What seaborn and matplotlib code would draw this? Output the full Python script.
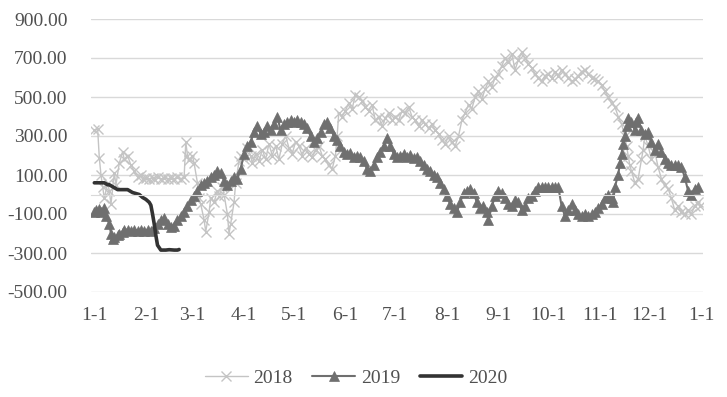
import matplotlib
matplotlib.use("Agg")
import numpy as np
import pandas as pd
import matplotlib.pyplot as plt
import seaborn as sns

# 日期用当年第几天表示 (1月1日 = 0)
days_2018 = [0, 2, 3, 4, 5, 6, 8, 9, 10, 12,
             13, 15, 17, 18, 20, 22, 24, 26, 28, 29,
             31, 33, 35, 36, 38, 40, 42, 44, 46, 48,
             50, 52, 54, 55, 56, 57, 59, 60, 62, 63,
             64, 66, 67, 69, 70, 72, 74, 75, 77, 78,
             80, 81, 82, 84, 85, 87, 88, 90, 92, 94,
             95, 97, 99, 101, 103, 105, 107, 109, 111, 113,
             115, 117, 119, 121, 123, 125, 127, 129, 131, 133,
             135, 137, 139, 141, 143, 145, 146, 147, 149, 151,
             153, 155, 157, 159, 161, 163, 165, 167, 169, 171,
             173, 175, 177, 179, 181, 183, 185, 187, 189, 191,
             193, 195, 197, 199, 201, 203, 205, 207, 209, 211,
             213, 215, 217, 219, 221, 223, 225, 227, 229, 231,
             233, 235, 237, 239, 241, 243, 245, 247, 249, 251,
             253, 255, 257, 259, 261, 263, 265, 267, 269, 271,
             273, 275, 277, 279, 281, 283, 285, 287, 289, 291,
             293, 295, 297, 299, 301, 303, 305, 307, 309, 311,
             313, 315, 317, 319, 320, 321, 322, 323, 325, 327,
             329, 330, 331, 333, 335, 337, 339, 341, 343, 345,
             347, 349, 351, 353, 355, 357, 359, 361, 363, 364]
vals_2018 = [330, 335, 187, 100, 40, -20, 60, 20, -50, 110,
             50, 160, 220, 180, 200, 150, 120, 90, 100, 80,
             85, 80, 85, 80, 90, 80, 85, 80, 85, 80,
             90, 80, 90, 270, 200, 175, 200, 160, 60, -20,
             -50, -130, -190, -90, -20, -40, 20, -10, 40, 0,
             -100, -200, -150, -40, 60, 170, 200, 180, 240, 200,
             160, 210, 170, 230, 180, 260, 200, 250, 180, 260,
             300, 240, 210, 270, 250, 200, 240, 210, 190, 230,
             250, 200, 180, 150, 130, 200, 300, 420, 400, 430,
             470, 440, 510, 500, 480, 450, 430, 460, 380, 400,
             350, 390, 420, 380, 400, 380, 430, 420, 450, 400,
             380, 350, 380, 360, 340, 360, 330, 310, 280, 260,
             300, 270, 250, 300, 380, 420, 460, 440, 500, 530,
             490, 540, 580, 550, 600, 620, 660, 700, 680, 720,
             640, 690, 730, 700, 670, 650, 620, 600, 580, 610,
             620, 600, 630, 610, 640, 620, 600, 580, 590, 610,
             630, 640, 620, 600, 590, 580, 560, 530, 500, 470,
             450, 400, 360, 300, 250, 200, 150, 120, 60, 80,
             180, 230, 300, 250, 180, 220, 140, 80, 50, 30,
             -20, -80, -60, -90, -100, -80, -100, -60, -40, -60]

days_2019 = [0, 1, 3, 4, 6, 7, 9, 10, 11, 12,
             14, 15, 17, 18, 20, 22, 24, 26, 28, 30,
             32, 34, 36, 38, 40, 42, 44, 46, 48, 50,
             52, 54, 56, 58, 60, 62, 64, 66, 68, 70,
             72, 74, 76, 78, 80, 82, 84, 86, 88, 90,
             92, 94, 96, 98, 100, 102, 104, 106, 108, 110,
             112, 114, 116, 118, 120, 122, 124, 126, 128, 130,
             132, 134, 136, 138, 140, 142, 144, 146, 148, 150,
             152, 154, 156, 158, 160, 162, 164, 166, 168, 170,
             172, 174, 176, 178, 180, 182, 184, 186, 188, 190,
             192, 194, 196, 198, 200, 202, 204, 206, 208, 210,
             212, 214, 216, 218, 220, 222, 224, 226, 228, 230,
             232, 234, 236, 237, 239, 241, 243, 245, 247, 249,
             251, 253, 255, 257, 259, 261, 263, 265, 267, 269,
             271, 273, 275, 277, 279, 281, 283, 285, 287, 289,
             291, 293, 295, 297, 299, 301, 303, 305, 307, 309,
             311, 312, 313, 315, 316, 317, 318, 319, 320, 321,
             323, 325, 326, 327, 329, 331, 333, 335, 337, 339,
             341, 343, 345, 347, 349, 351, 353, 355, 357, 359,
             361, 363]
vals_2019 = [-90, -80, -75, -90, -70, -110, -150, -200, -230, -220,
             -210, -200, -190, -180, -180, -185, -180, -185, -180, -185,
             -180, -185, -170, -150, -130, -120, -150, -165, -160, -130,
             -110, -90, -60, -30, -10, 20, 50, 60, 70, 90,
             100, 120, 110, 70, 50, 70, 90, 80, 130, 210,
             250, 270, 320, 350, 310, 320, 350, 330, 360, 400,
             330, 360, 370, 380, 370, 380, 370, 360, 340, 300,
             270, 290, 320, 360, 370, 340, 300, 280, 250, 220,
             210, 215, 190, 200, 190, 170, 130, 120, 150, 190,
             220, 250, 290, 250, 210, 190, 200, 210, 190, 205,
             185, 190, 170, 150, 130, 120, 100, 90, 60, 30,
             -10, -50, -70, -90, -40, 10, 20, 30, 10, -40,
             -70, -60, -90, -130, -60, -10, 20, 10, -20, -50,
             -60, -30, -40, -80, -60, -20, -10, 20, 40, 40,
             40, 40, 40, 40, 38, -60, -110, -80, -50, -80,
             -100, -110, -100, -110, -100, -90, -70, -50, -20, 0,
             -20, -40, 40, 100, 160, 210, 260, 300, 350, 390,
             370, 330, 370, 390, 330, 310, 320, 270, 230, 260,
             220, 180, 160, 150, 150, 150, 140, 90, 20, 0,
             30, 40]

days_2020 = [0, 1, 2, 6, 7, 8, 9, 13, 14, 20,
             21, 23, 27, 29, 31, 33, 34, 35, 36, 37,
             38, 40, 43, 45, 48, 50, 51]
vals_2020 = [60, 60, 60, 60, 55, 50, 50, 30, 25, 25,
             20, 10, 0, -15, -25, -40, -55, -100, -150, -210,
             -260, -285, -285, -283, -285, -285, -282]

y_ticks = list(range(-500, 901, 200))
month_starts = pd.date_range("2019-01-01", "2020-01-01", freq="MS")
month_days = (month_starts - month_starts[0]).days
month_labels = [f"{d.month}-1" for d in month_starts]

sns.set_style("white")
plt.rcParams["font.family"] = ["Liberation Serif", "DejaVu Serif"]
text_color = "#505050"
grid_color = "#d9d9d9"

fig = plt.figure(figsize=(7.27, 3.97), dpi=100)
ax = fig.add_axes([91 / 727, 1 - 292 / 397, (703 - 91) / 727, (292 - 19) / 397])

sns.lineplot(x=days_2018, y=vals_2018, ax=ax, sort=False, estimator=None,
             color="#c4c4c4", linewidth=1, marker="x", markersize=7,
             markeredgecolor="#c4c4c4", markeredgewidth=1, label="2018")
sns.lineplot(x=days_2019, y=vals_2019, ax=ax, sort=False, estimator=None,
             color="#6f6f6f", linewidth=1.5, marker="^", markersize=7,
             markeredgecolor="#6f6f6f", markeredgewidth=0.5, label="2019")
sns.lineplot(x=days_2020, y=vals_2020, ax=ax, sort=False, estimator=None,
             color="#333333", linewidth=2.6, label="2020")

ax.set_xlim(-2, 366)
ax.set_ylim(-500, 900)
ax.set_yticks(y_ticks)
ax.set_yticklabels([f"{v:.2f}" for v in y_ticks])
ax.yaxis.grid(True, color=grid_color, linewidth=1)
ax.xaxis.grid(False)
ax.set_axisbelow(True)
for s in ["top", "right", "left"]:
    ax.spines[s].set_visible(False)
ax.spines["bottom"].set_position(("data", 0))
ax.spines["bottom"].set_color(grid_color)
ax.set_xticks(month_days)
ax.tick_params(axis="x", direction="out", length=5, color=grid_color,
               labelbottom=False)
ax.tick_params(axis="y", length=0, pad=17, labelsize=14, labelcolor=text_color)
ax.set_xlabel("")
ax.set_ylabel("")

sec = ax.secondary_xaxis("bottom")
sec.set_xticks(month_days, labels=month_labels)
sec.spines["bottom"].set_visible(False)
sec.tick_params(length=0, pad=11, labelsize=14, labelcolor=text_color)

handles, labels = ax.get_legend_handles_labels()
ax.get_legend().remove()
fig.legend(handles, labels, loc="lower center", bbox_to_anchor=(0.49, -0.018),
           ncol=3, frameon=False, fontsize=14, labelcolor=text_color,
           handlelength=2.2, handletextpad=0.3, columnspacing=1.0)

fig.savefig("out.png", dpi=100)
